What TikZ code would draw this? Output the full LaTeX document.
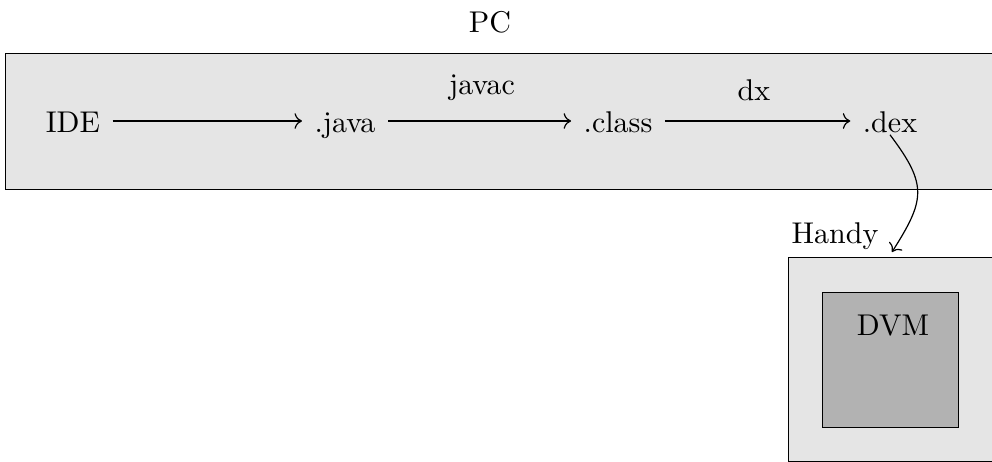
\documentclass[tikz,border=0pt]{standalone}
\usetikzlibrary{arrows.meta}
\begin{document}
\begin{tikzpicture}[x=0.3333pt,y=-0.3333pt,
  lbl/.style={inner sep=4pt, text height=8pt, text depth=0.2pt},
  box/.style={draw, line width=0.4pt, inner sep=0pt, anchor=north west},
  conn/.style={->, line width=0.4pt}]
\useasboundingbox (0,0) rectangle (992,462);
\clip (0,0) rectangle (992,462);
% boxes
\node[box, fill=gray!20, minimum width=333pt, minimum height=45.33pt] (pcbox) at (5,53) {};
\node[box, fill=gray!20, minimum width=70.67pt, minimum height=68pt] (handybox) at (788,257) {};
\node[box, fill=gray!60, minimum width=45.33pt, minimum height=45pt] (dvmbox) at (822,292) {};
% labels
\node (pc) at (490,22) {PC};
\node[lbl] (ide) at (73,121) {IDE};
\node[lbl] (java) at (345,121) {.java};
\node[lbl] (class) at (618,121) {.class};
\node[lbl] (dex) at (890,121) {.dex};
\node (javac) at (482,88) {javac};
\node (dx) at (754,90) {dx};
\node (handy) at (835,236) {Handy};
\node (dvm) at (893,326) {DVM};
\coordinate (handyin) at (892,252);
% connectors
\draw[conn] (ide) -- (java);
\draw[conn] (java) -- (class);
\draw[conn] (class) -- (dex);
\draw[conn] ([yshift=-0.7pt]dex.base) .. controls (928,185) and (925,200) .. (handyin);
\end{tikzpicture}
\end{document}
